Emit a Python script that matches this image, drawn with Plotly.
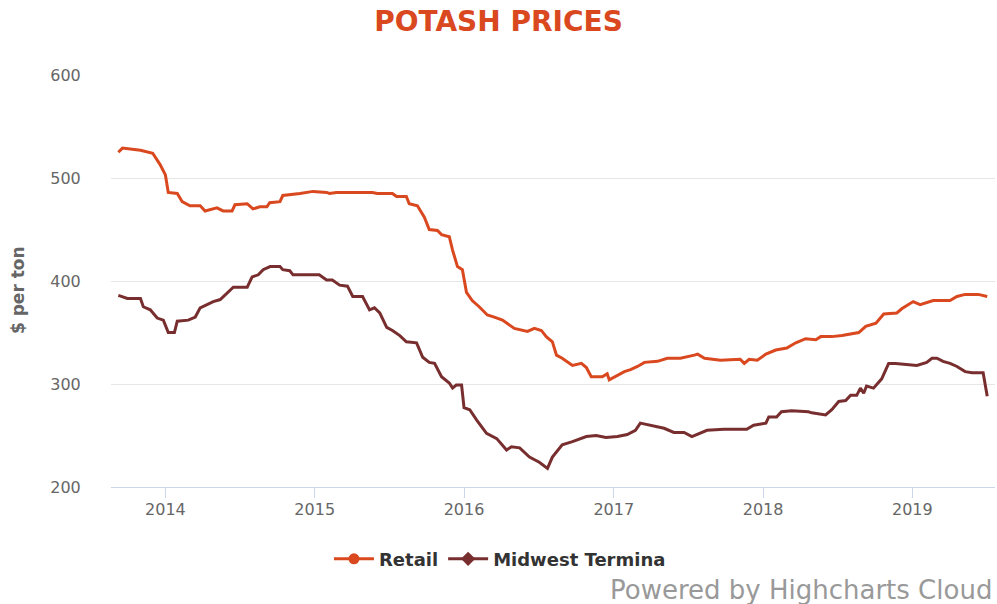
import plotly.graph_objects as go

retail_dates = [
    "2013-09-08", "2013-09-18", "2013-11-01", "2013-11-24", "2013-12-01", "2013-12-19",
    "2014-01-01", "2014-01-08", "2014-01-30", "2014-02-11", "2014-03-02", "2014-03-27",
    "2014-04-08", "2014-05-07", "2014-05-22", "2014-06-13", "2014-06-20", "2014-07-20",
    "2014-08-03", "2014-08-20", "2014-09-06", "2014-09-13", "2014-10-08", "2014-10-15",
    "2014-11-09", "2014-11-26", "2014-12-28", "2015-01-30", "2015-02-06", "2015-02-23",
    "2015-04-13", "2015-05-22", "2015-06-03", "2015-07-10", "2015-07-20", "2015-08-13",
    "2015-08-20", "2015-09-09", "2015-09-26", "2015-10-08", "2015-10-28", "2015-11-07",
    "2015-11-26", "2015-12-04", "2015-12-16", "2015-12-28", "2016-01-07", "2016-01-21",
    "2016-02-07", "2016-02-27", "2016-03-15", "2016-04-04", "2016-05-03", "2016-06-04",
    "2016-06-21", "2016-07-08", "2016-07-20", "2016-08-04", "2016-08-14", "2016-08-28",
    "2016-09-22", "2016-10-14", "2016-10-26", "2016-11-07", "2016-12-04", "2016-12-16",
    "2016-12-21", "2017-01-03", "2017-01-27", "2017-02-11", "2017-02-28", "2017-03-17",
    "2017-04-18", "2017-05-12", "2017-06-13", "2017-07-17", "2017-07-25", "2017-08-11",
    "2017-09-19", "2017-11-06", "2017-11-16", "2017-11-28", "2017-12-18", "2018-01-08",
    "2018-02-01", "2018-02-28", "2018-03-22", "2018-04-15", "2018-05-10", "2018-05-22",
    "2018-06-18", "2018-07-13", "2018-08-06", "2018-08-23", "2018-09-09", "2018-10-04",
    "2018-10-23", "2018-11-24", "2018-12-06", "2019-01-03", "2019-01-20", "2019-02-21",
    "2019-03-10", "2019-04-03", "2019-04-20", "2019-05-10", "2019-06-11", "2019-07-03",
]
retail_values = [
    525, 529, 527, 525, 524, 513,
    503, 486, 485, 477, 473, 473,
    468, 471, 468, 468, 474, 475,
    470, 472, 472, 476, 477, 483,
    484, 485, 487, 486, 485, 486,
    486, 486, 485, 485, 482, 482,
    475, 473, 462, 450, 449, 445,
    443, 430, 414, 411, 389, 381,
    375, 367, 365, 362, 354, 351,
    354, 352, 346, 341, 328, 325,
    318, 320, 316, 307, 307, 310,
    304, 307, 312, 314, 317, 321,
    322, 325, 325, 328, 329, 325,
    323, 324, 320, 324, 323, 329,
    333, 335, 340, 344, 343, 346,
    346, 347, 349, 350, 356, 359,
    368, 369, 373, 380, 377, 381,
    381, 381, 385, 387, 387, 385,
]

midwest_dates = [
    "2013-09-08", "2013-09-30", "2013-11-01", "2013-11-08", "2013-11-25", "2013-12-12",
    "2013-12-27", "2014-01-08", "2014-01-23", "2014-01-30", "2014-02-26", "2014-03-15",
    "2014-03-27", "2014-04-13", "2014-04-28", "2014-05-15", "2014-06-01", "2014-06-16",
    "2014-07-20", "2014-08-01", "2014-08-16", "2014-08-28", "2014-09-14", "2014-10-08",
    "2014-10-15", "2014-11-01", "2014-11-09", "2015-01-12", "2015-01-30", "2015-02-13",
    "2015-03-03", "2015-03-22", "2015-04-04", "2015-04-28", "2015-05-15", "2015-05-27",
    "2015-06-09", "2015-06-26", "2015-07-10", "2015-07-28", "2015-08-13", "2015-09-07",
    "2015-09-22", "2015-10-08", "2015-10-21", "2015-11-07", "2015-11-26", "2015-12-04",
    "2015-12-13", "2015-12-26", "2016-01-01", "2016-01-15", "2016-02-01", "2016-02-25",
    "2016-03-21", "2016-04-14", "2016-04-26", "2016-05-16", "2016-06-09", "2016-07-03",
    "2016-07-23", "2016-08-04", "2016-08-28", "2016-09-22", "2016-10-26", "2016-11-19",
    "2016-12-13", "2017-01-10", "2017-02-03", "2017-02-23", "2017-03-07", "2017-03-31",
    "2017-05-04", "2017-05-28", "2017-06-22", "2017-07-11", "2017-08-17", "2017-09-27",
    "2017-11-22", "2017-12-09", "2018-01-08", "2018-01-15", "2018-02-03", "2018-02-15",
    "2018-03-12", "2018-04-22", "2018-04-30", "2018-06-03", "2018-06-18", "2018-07-05",
    "2018-07-22", "2018-08-03", "2018-08-18", "2018-08-27", "2018-09-04", "2018-09-11",
    "2018-09-28", "2018-10-18", "2018-11-04", "2018-11-21", "2019-01-12", "2019-02-05",
    "2019-02-18", "2019-03-02", "2019-03-17", "2019-04-03", "2019-04-20", "2019-05-10",
    "2019-05-27", "2019-06-23", "2019-07-03",
]
midwest_values = [
    386, 383, 383, 375, 372, 364,
    362, 350, 350, 361, 362, 365,
    374, 377, 380, 382, 388, 394,
    394, 404, 406, 411, 414, 414,
    411, 410, 406, 406, 401, 401,
    396, 395, 385, 385, 372, 374,
    369, 355, 352, 347, 341, 340,
    326, 321, 320, 307, 301, 296,
    299, 299, 277, 275, 265, 252,
    247, 236, 239, 238, 229, 224,
    218, 229, 241, 244, 249, 250,
    248, 249, 251, 255, 262, 260,
    257, 253, 253, 249, 255, 256,
    256, 260, 262, 268, 268, 273,
    274, 273, 272, 270, 275, 283,
    284, 289, 289, 296, 291, 298,
    296, 305, 320, 320, 318, 321,
    325, 325, 322, 320, 317, 312,
    311, 311, 288,
]

series_names = ["Retail", "Midwest Termina"]
title_text = "POTASH PRICES"
y_axis_title = "$ per ton"
credit_text = "Powered by Highcharts Cloud"

RETAIL_COLOR = "#d9481e"
MIDWEST_COLOR = "#782e2e"
FONT = "DejaVu Sans"

fig = go.Figure()

fig.add_trace(go.Scatter(
    x=retail_dates, y=retail_values, mode="lines", name=series_names[0],
    line=dict(color=RETAIL_COLOR, width=3), showlegend=False,
))
fig.add_trace(go.Scatter(
    x=midwest_dates, y=midwest_values, mode="lines", name=series_names[1],
    line=dict(color=MIDWEST_COLOR, width=3), showlegend=False,
))
# legend entries (line with marker, as in the original legend)
fig.add_trace(go.Scatter(
    x=[None], y=[None], mode="lines+markers", name=series_names[0],
    line=dict(color=RETAIL_COLOR, width=3),
    marker=dict(symbol="circle", size=11, color=RETAIL_COLOR),
))
fig.add_trace(go.Scatter(
    x=[None], y=[None], mode="lines+markers", name=series_names[1],
    line=dict(color=MIDWEST_COLOR, width=3),
    marker=dict(symbol="diamond", size=11, color=MIDWEST_COLOR),
))

fig.update_layout(
    width=997, height=604,
    margin=dict(l=111, r=2, t=75, b=117),
    paper_bgcolor="white", plot_bgcolor="white",
    font=dict(family=FONT, color="#666666", size=16),
    title=dict(
        text=title_text, x=0.5, xref="container", xanchor="center",
        y=1 - 21 / 604, yref="container", yanchor="middle",
        font=dict(family=FONT, size=28, color=RETAIL_COLOR, weight="bold"),
    ),
    showlegend=True,
    legend=dict(
        orientation="h", x=0.44, xanchor="center", y=-0.175, yanchor="middle",
        font=dict(family=FONT, size=18, color="#333333", weight="bold"),
        itemwidth=40, tracegroupgap=0,
    ),
    xaxis=dict(
        type="date",
        range=["2013-08-21", "2019-07-22"],
        tick0="2014-01-01", dtick="M12", tickformat="%Y",
        showgrid=False, zeroline=False,
        showline=True, linecolor="#ccd6eb", linewidth=1,
        ticks="outside", ticklen=10, tickcolor="#ccd6eb", tickwidth=1,
        ticklabelstandoff=-2,
        tickfont=dict(family=FONT, size=16, color="#666666"),
    ),
    yaxis=dict(
        range=[200, 600], dtick=100, tick0=200,
        showgrid=True, gridcolor="#e6e6e6", gridwidth=1,
        zeroline=False, showline=False,
        ticks="outside", ticklen=26, tickcolor="rgba(0,0,0,0)",
        tickfont=dict(family=FONT, size=16, color="#666666"),
    ),
    annotations=[
        dict(
            text=y_axis_title, textangle=-90, xref="paper", yref="paper",
            x=-93 / 884, y=0.478, xanchor="center", yanchor="middle",
            showarrow=False,
            font=dict(family=FONT, size=17, color="#666666", weight="bold"),
        ),
        dict(
            text=credit_text, xref="paper", yref="paper",
            x=(994 - 111) / 884, y=(487 - 590) / 412, xanchor="right", yanchor="middle",
            showarrow=False,
            font=dict(family=FONT, size=26, color="#999999"),
        ),
    ],
)

fig.write_html(
    "out.html",
    config={"displayModeBar": False},
    post_script="document.body.style.margin='0';document.body.style.padding='0';",
)
